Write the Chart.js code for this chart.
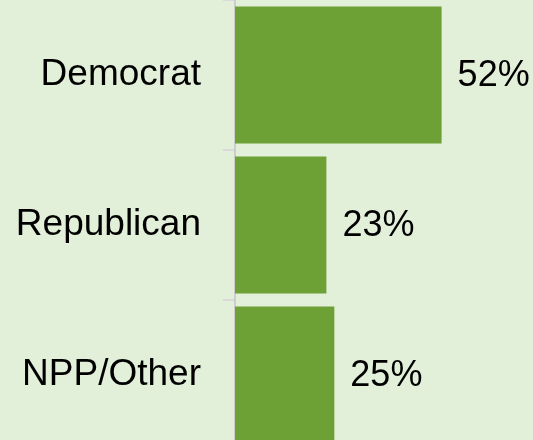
<!DOCTYPE html>
<html>
<head>
<meta charset="utf-8">
<script src="https://cdn.jsdelivr.net/npm/chart.js@4/dist/chart.umd.min.js"></script>
<style>
  html, body { margin: 0; padding: 0; overflow: hidden; background: #E2EFD9; }
  #wrap { width: 533px; height: 440px; overflow: hidden; }
  canvas { display: block; }
</style>
</head>
<body>
<div id="wrap"><canvas id="c" width="533" height="450"></canvas></div>
<script>
const categories = ["Democrat", "Republican", "NPP/Other"];
const shares = [52, 23, 25];
const valueLabels = ["52%", "23%", "25%"];

const FONT = '"Liberation Sans", Arial, sans-serif';

const barLabels = {
  id: 'barLabels',
  afterDatasetsDraw(chart) {
    const ctx = chart.ctx;
    const meta = chart.getDatasetMeta(0);
    ctx.save();
    ctx.font = '36px ' + FONT;
    ctx.fillStyle = '#000';
    ctx.textAlign = 'left';
    ctx.textBaseline = 'middle';
    meta.data.forEach((el, i) => {
      ctx.fillText(valueLabels[i], el.x + 16, el.y + 1);
    });
    ctx.restore();
  }
};

new Chart(document.getElementById('c'), {
  type: 'bar',
  data: {
    labels: categories,
    datasets: [{
      data: shares,
      backgroundColor: '#6EA135',
      borderWidth: 0,
      categoryPercentage: 1,
      barPercentage: 0.913
    }]
  },
  options: {
    indexAxis: 'y',
    responsive: false,
    animation: false,
    devicePixelRatio: 1,
    layout: { padding: 0 },
    plugins: { legend: { display: false }, tooltip: { enabled: false } },
    scales: {
      x: {
        display: false,
        min: 0,
        max: 75
      },
      y: {
        afterFit(scale) {
          scale.width = 235;
          scale.paddingTop = 0;
          scale.paddingBottom = 0;
        },
        grid: {
          drawOnChartArea: false,
          drawTicks: true,
          tickLength: 12,
          color: '#D9D9D9',
          lineWidth: 2,
          offset: true
        },
        border: { display: true, color: '#CDCDCD', width: 2 },
        ticks: {
          padding: 22,
          color: '#000',
          font: { family: FONT, size: 37 }
        }
      }
    }
  },
  plugins: [barLabels]
});
</script>
</body>
</html>
